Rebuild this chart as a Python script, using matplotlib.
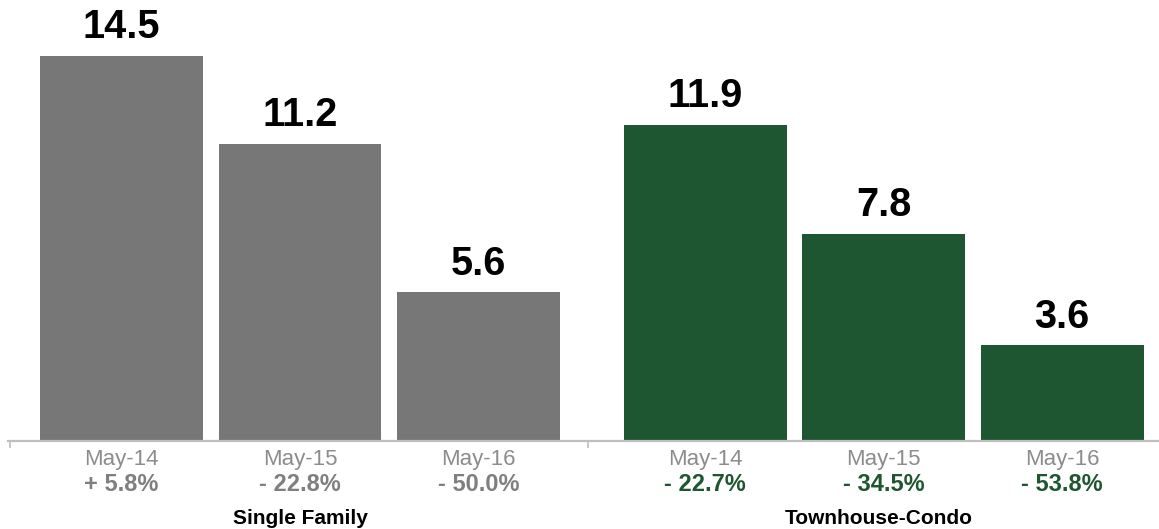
import matplotlib.pyplot as plt

plt.rcParams['font.family'] = ['Liberation Sans', 'DejaVu Sans']

# months of inventory, by property type
months = ['May-14', 'May-15', 'May-16']
single_family = [14.5, 11.2, 5.6]
townhouse_condo = [11.9, 7.8, 3.6]
single_family_change = [5.8, -22.8, -50.0]
townhouse_condo_change = [-22.7, -34.5, -53.8]
groups = ['Single Family', 'Townhouse-Condo']

gray = '#777777'
green = '#1e5631'
group_gap = 1.27
bar_w = 0.913

fig = plt.figure(figsize=(11.59, 5.29), dpi=100)
ax = fig.add_axes([8 / 1159, 88 / 529, 1 - 8 / 1159, 1 - 88 / 529])

x_left = [i for i in range(len(months))]
x_right = [len(months) - 1 + group_gap + i for i in range(len(months))]


def fmt_change(v):
    sign = '+' if v >= 0 else '-'
    return f'{sign} {abs(v):.1f}%'


for xs, vals, changes, col, pct_col in [
    (x_left, single_family, single_family_change, gray, '#7f7f7f'),
    (x_right, townhouse_condo, townhouse_condo_change, green, green),
]:
    bars = ax.bar(xs, vals, width=bar_w, color=col, zorder=2)
    for b, v in zip(bars, vals):
        ax.annotate(f'{v:.1f}', (b.get_x() + b.get_width() / 2, v),
                    xytext=(0, 7), textcoords='offset points',
                    ha='center', va='bottom', fontsize=28.5, fontweight='bold',
                    color='black')
    for x, m, c in zip(xs, months, changes):
        ax.annotate(m, (x, 0), xycoords=('data', 'axes fraction'),
                    xytext=(0, -13), textcoords='offset points',
                    ha='center', va='center', fontsize=16, color='#8c8c8c')
        ax.annotate(fmt_change(c), (x, 0), xycoords=('data', 'axes fraction'),
                    xytext=(0, -31), textcoords='offset points',
                    ha='center', va='center', fontsize=17, fontweight='bold',
                    color=pct_col)

for x, g in zip([x_left[1], x_right[1] - 0.03], groups):
    ax.annotate(g, (x, 0), xycoords=('data', 'axes fraction'),
                xytext=(0, -55.5), textcoords='offset points',
                ha='center', va='center', fontsize=15, fontweight='bold',
                color='black')

left = -0.636
divider = 2.613
ax.set_xlim(left, x_right[-1] + 0.543)
ax.set_ylim(0, 16.61)

for s in ['top', 'right', 'left']:
    ax.spines[s].set_visible(False)
ax.spines['bottom'].set_color('#bfbfbf')
ax.spines['bottom'].set_linewidth(1.6)
ax.set_xticks([left + 0.01, divider])
ax.set_xticklabels([])
ax.tick_params(axis='x', length=5, width=1.2, color='#bfbfbf')
ax.set_yticks([])

fig.savefig('out.png', dpi=100)
